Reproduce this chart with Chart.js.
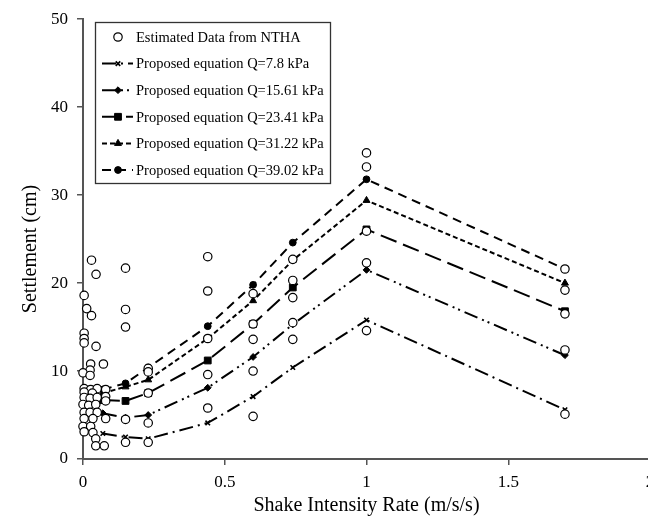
<!DOCTYPE html>
<html>
<head>
<meta charset="utf-8">
<script src="https://cdn.jsdelivr.net/npm/chart.js@4.4.1/dist/chart.umd.min.js"></script>
<style>
    html, body { margin: 0; padding: 0; background: #fff; overflow: hidden; }
    #wrap { width: 648px; height: 521px; overflow: hidden; }
</style>
</head>
<body>
<div id="wrap"><canvas id="settlementChart" width="662" height="521"></canvas></div>
<script>
// Shake intensity rate values of the proposed equation lines (m/s/s)
var rateX = [0.07, 0.15, 0.23, 0.44, 0.6, 0.74, 1.0, 1.7];

// Proposed equation, settlement (cm) per surcharge
var q78   = [2.9, 2.5, 2.3, 4.1, 7.1, 10.4, 15.8, 5.6];
var q1561 = [5.2, 4.7, 5.0, 8.1, 11.6, 15.3, 21.5, 11.8];
var q2341 = [6.7, 6.6, 7.5, 11.2, 15.35, 19.5, 26.1, 16.8];
var q3122 = [7.5, 8.2, 9.0, 13.7, 18.0, 22.6, 29.4, 20.0];
var q3902 = [7.9, 8.6, 10.4, 15.1, 19.8, 24.6, 31.8, 21.6];

// Estimated data from NTHA
var nthaX = [0.03, 0.046, 0.004, 0.013, 0.03, 0.004, 0.004, 0.004, 0.046, 0.027, 0.072, 0.025, 0.0, 0.025,
    0.004, 0.027, 0.05, 0.08, 0.004, 0.033, 0.08, 0.004, 0.025, 0.05, 0.08, 0.0, 0.02, 0.045,
    0.004, 0.025, 0.05, 0.004, 0.035, 0.08, 0.0, 0.027, 0.004, 0.035, 0.045, 0.045, 0.075,
    0.15, 0.15, 0.15, 0.15, 0.15,
    0.23, 0.23, 0.23, 0.23, 0.23,
    0.44, 0.44, 0.44, 0.44, 0.44,
    0.6, 0.6, 0.6, 0.6, 0.6,
    0.74, 0.74, 0.74, 0.74, 0.74,
    1.0, 1.0, 1.0, 1.0, 1.0,
    1.7, 1.7, 1.7, 1.7, 1.7];
var nthaY = [22.6, 21.0, 18.6, 17.1, 16.3, 14.3, 13.7, 13.2, 12.8, 10.8, 10.8, 10.1, 9.8, 9.5,
    8.0, 7.9, 8.0, 7.9, 7.6, 7.5, 7.1, 7.0, 6.9, 7.0, 6.6, 6.2, 6.1, 6.2,
    5.3, 5.3, 5.3, 4.6, 4.6, 4.6, 3.7, 3.7, 3.1, 3.0, 2.3, 1.5, 1.5,
    21.7, 17.0, 15.0, 4.5, 1.9,
    10.3, 9.9, 7.5, 4.1, 1.9,
    23.0, 19.1, 13.7, 9.6, 5.8,
    18.8, 15.35, 13.6, 10.0, 4.85,
    22.7, 20.3, 18.35, 15.5, 13.6,
    34.8, 33.2, 25.9, 22.3, 14.6,
    21.6, 19.2, 16.5, 12.4, 5.1];

var xTicks = [0, 0.5, 1, 1.5, 2];
var yTicks = [0, 10, 20, 30, 40, 50];

var serif = '"Liberation Serif", "Times New Roman", serif';

function toPoints(xs, ys) {
    return xs.map(function(x, i) { return { x: x, y: ys[i] }; });
}

function lineSet(label, values, dash, style, radius) {
    return {
        label: label,
        data: toPoints(rateX, values),
        showLine: true,
        borderColor: '#000',
        backgroundColor: '#000',
        borderWidth: 2,
        borderDash: dash,
        pointStyle: style,
        pointRadius: radius,
        pointBorderWidth: style === 'crossRot' ? 1.6 : 1,
        pointBorderColor: '#000',
        pointBackgroundColor: '#000',
        clip: false
    };
}

var datasets = [
    {
        label: 'Estimated Data from NTHA',
        data: toPoints(nthaX, nthaY),
        showLine: false,
        pointStyle: 'circle',
        pointRadius: 4.2,
        pointBorderWidth: 1.2,
        pointBorderColor: '#000',
        pointBackgroundColor: '#fff',
        borderColor: '#000',
        backgroundColor: '#fff',
        clip: false
    },
    lineSet('Proposed equation Q=7.8 kPa', q78, [14, 5, 2, 5], 'crossRot', 3.2),
    lineSet('Proposed equation Q=15.61 kPa', q1561, [14, 5, 2, 4, 2, 5], 'rectRot', 3.4),
    lineSet('Proposed equation Q=23.41 kPa', q2341, [17, 7], 'rect', 4.8),
    lineSet('Proposed equation Q=31.22 kPa', q3122, [5, 3], 'triangle', 4),
    lineSet('Proposed equation Q=39.02 kPa', q3902, [9, 6], 'circle', 3.4)
];

// Boxed legend in the upper left of the plot, plus the y title
var boxLegend = {
    id: 'boxLegend',
    afterDraw: function(chart) {
        var ctx = chart.ctx;
        var bx = 95.5, by = 22.5, bw = 235, bh = 161;
        ctx.save();
        ctx.fillStyle = '#fff';
        ctx.fillRect(bx, by, bw, bh);
        ctx.strokeStyle = '#333';
        ctx.lineWidth = 1.3;
        ctx.strokeRect(bx, by, bw, bh);
        ctx.font = '14.5px ' + serif;
        ctx.textBaseline = 'middle';
        chart.data.datasets.forEach(function(ds, i) {
            var y = 37 + i * 26.6;
            if (ds.showLine) {
                ctx.strokeStyle = '#000';
                ctx.lineWidth = 2;
                ctx.setLineDash(ds.borderDash);
                ctx.beginPath();
                ctx.moveTo(102, y);
                ctx.lineTo(133, y);
                ctx.stroke();
                ctx.setLineDash([]);
            }
            ctx.fillStyle = ds.pointBackgroundColor;
            ctx.strokeStyle = '#000';
            ctx.lineWidth = ds.pointBorderWidth;
            Chart.helpers.drawPoint(ctx, {
                pointStyle: ds.pointStyle,
                radius: ds.pointRadius,
                borderWidth: ds.pointBorderWidth,
                rotation: 0
            }, 118, y);
            ctx.fillStyle = '#000';
            ctx.fillText(ds.label, 136, y + 1);
        });

        // y axis title, a bit below the axis middle as in the original
        ctx.translate(31, 249);
        ctx.rotate(-Math.PI / 2);
        ctx.font = '20px ' + serif;
        ctx.textAlign = 'center';
        ctx.fillStyle = '#000';
        ctx.fillText('Settlement (cm)', 0, 0);
        ctx.restore();
    }
};

var ctx = document.getElementById('settlementChart').getContext('2d');
var settlementChart = new Chart(ctx, {
    type: 'scatter',
    data: { datasets: datasets },
    options: {
        responsive: false,
        animation: false,
        events: [],
        layout: { padding: { top: 15, right: 12, left: 0, bottom: 0 } },
        plugins: {
            legend: { display: false },
            tooltip: { enabled: false }
        },
        scales: {
            x: {
                type: 'linear',
                min: 0,
                max: 2,
                afterBuildTicks: function(scale) {
                    scale.ticks = xTicks.map(function(v) { return { value: v }; });
                },
                afterFit: function(scale) { scale.height = 62; },
                ticks: {
                    color: '#000',
                    padding: 7,
                    maxRotation: 0,
                    font: { family: serif, size: 17 },
                    callback: function(v) { return String(v); }
                },
                grid: { display: true, drawOnChartArea: false, drawTicks: true, tickLength: 6, color: '#555', lineWidth: 1.5 },
                border: { display: true, color: '#555', width: 2 },
                title: {
                    display: true,
                    text: 'Shake Intensity Rate (m/s/s)',
                    color: '#000',
                    font: { family: serif, size: 20 },
                    padding: { top: 0, bottom: 3 }
                }
            },
            y: {
                type: 'linear',
                min: 0,
                max: 50,
                afterBuildTicks: function(scale) {
                    scale.ticks = yTicks.map(function(v) { return { value: v }; });
                },
                afterFit: function(scale) { scale.width = 83; },
                ticks: {
                    color: '#000',
                    padding: 9,
                    font: { family: serif, size: 17 }
                },
                grid: { display: true, drawOnChartArea: false, drawTicks: true, tickLength: 6, color: '#555', lineWidth: 1.5 },
                border: { display: true, color: '#555', width: 2 }
            }
        }
    },
    plugins: [boxLegend]
});
</script>
</body>
</html>
